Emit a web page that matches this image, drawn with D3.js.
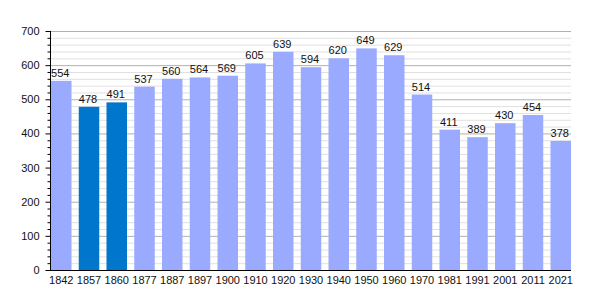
<!DOCTYPE html>
<html><head><meta charset="utf-8">
<script src="https://cdn.jsdelivr.net/npm/d3@7"></script>
<style>body{margin:0;background:#fff}svg{display:block}text{font-family:"Liberation Sans",Arial,sans-serif}</style>
</head><body><svg id="c" width="600" height="300"></svg>
<script>
const years = ["1842","1857","1860","1877","1887","1897","1900","1910","1920","1930","1940","1950","1960","1970","1981","1991","2001","2011","2021"];
const population = [554,478,491,537,560,564,569,605,639,594,620,649,629,514,411,389,430,454,378];
const highlighted = ["1857","1860"];
const yTicks = [0,100,200,300,400,500,600,700];

const svg = d3.select("#c");
const x = d3.scaleBand().domain(years).range([51,571]).paddingInner(0.2613).paddingOuter(0);
const y = d3.scaleLinear().domain([0,700]).range([270,31]);

// minor grid
const minor = d3.range(0,701,20).filter(v=>v%100!==0);
svg.append("g").selectAll("line").data(minor).join("line")
  .attr("x1",50).attr("x2",571).attr("y1",d=>y(d)+0.5).attr("y2",d=>y(d)+0.5)
  .attr("stroke","#e0e0e0").attr("stroke-width",1);
svg.append("g").selectAll("line").data(yTicks.filter(v=>v>0)).join("line")
  .attr("x1",50).attr("x2",571).attr("y1",d=>y(d)+0.5).attr("y2",d=>y(d)+0.5)
  .attr("stroke","#b0b0b0").attr("stroke-width",1);

// bars
svg.append("g").selectAll("rect").data(years).join("rect")
  .attr("x",d=>x(d)).attr("width",x.bandwidth())
  .attr("y",(d,i)=>y(population[i])).attr("height",(d,i)=>y(0)-y(population[i]))
  .attr("fill",d=>highlighted.includes(d)?"#0077cc":"#99aaff");

// value labels
svg.append("g").selectAll("text").data(years).join("text")
  .attr("x",d=>x(d)+x.bandwidth()/2-1).attr("y",(d,i)=>y(population[i])-4)
  .attr("text-anchor","middle").attr("font-size",11).attr("fill","#111")
  .text((d,i)=>population[i]);

// y axis
const ya = svg.append("g").attr("transform","translate(50.5,0)")
  .call(d3.axisLeft(y).tickValues(yTicks).tickSize(5).tickPadding(6).tickFormat(d3.format("d")));
ya.select(".domain").attr("d","M0,31V270.5");
ya.selectAll("text").attr("font-size",11).attr("fill","#111").style("font-family","Liberation Sans, Arial, sans-serif");
ya.selectAll("line").attr("stroke","#000");
svg.append("g").attr("transform","translate(50.5,0)").selectAll("line").data(minor).join("line")
  .attr("x1",-3).attr("x2",0).attr("y1",d=>y(d)+0.5).attr("y2",d=>y(d)+0.5).attr("stroke","#000");

// x axis
const xa = svg.append("g").attr("transform","translate(0,270.5)")
  .call(d3.axisBottom(x).tickSize(0).tickPadding(6));
xa.select(".domain").attr("d","M50,0H571");
xa.selectAll("text").attr("font-size",11).attr("fill","#111").style("font-family","Liberation Sans, Arial, sans-serif");
</script></body></html>
